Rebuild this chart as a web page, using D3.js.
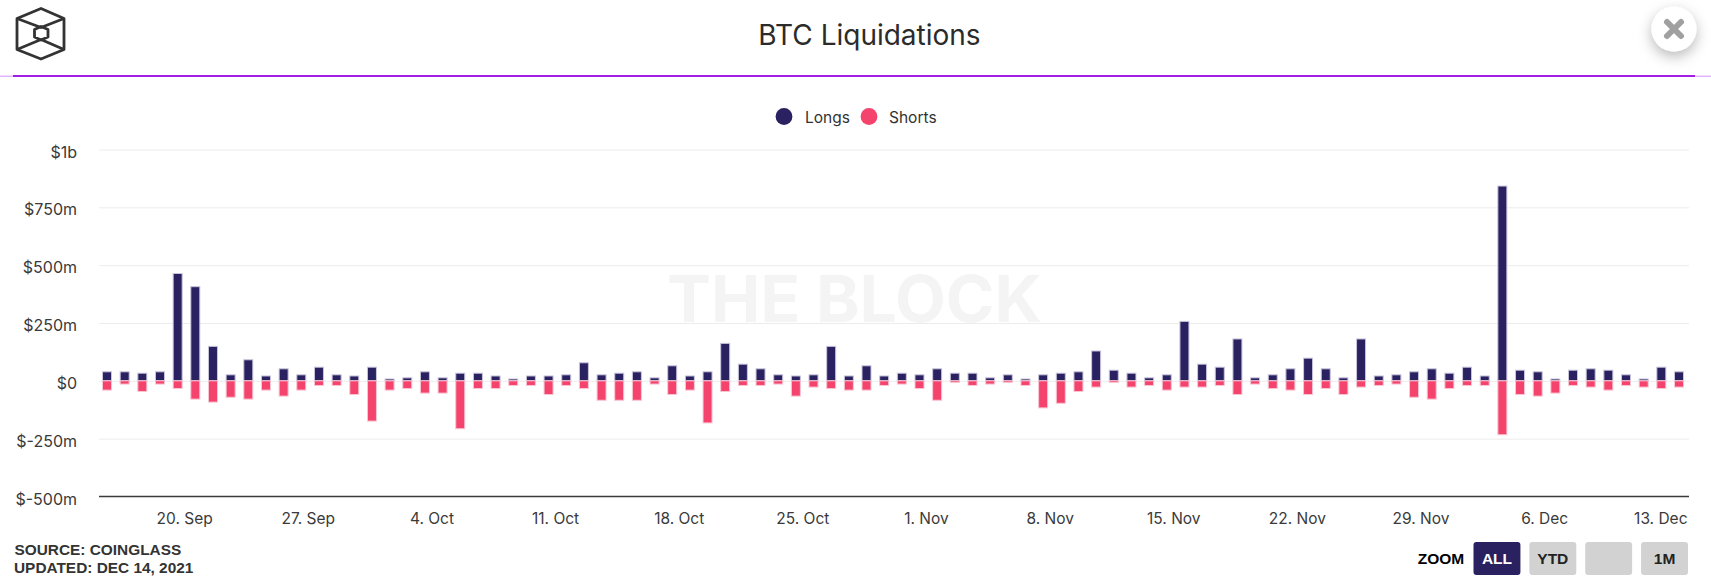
<!DOCTYPE html>
<html>
<head>
<meta charset="utf-8">
<script src="https://cdn.jsdelivr.net/npm/d3@7"></script>
<style>
html,body{margin:0;padding:0;background:#fff;overflow:hidden}
svg{display:block}
text{font-family:Inter,"Noto Sans",sans-serif}
</style>
</head>
<body>
<svg id="c" width="1711" height="579"></svg>
<script>
const firstDay = "2021-09-16";
const longs = [39,39,33,39,464,407,149,26,91,21,52,26,59,26,21,59,8,13,39,13,33,33,21,8,21,21,26,78,26,33,39,13,65,21,39,162,72,52,26,21,26,149,21,65,21,33,26,52,33,33,13,26,8,26,33,39,129,46,33,13,26,257,72,59,181,13,26,52,98,52,13,181,21,26,39,52,33,59,21,842,46,39,8,46,52,46,26,8,59,39];
const shorts = [-40,-14,-46,-14,-33,-79,-92,-71,-79,-40,-66,-40,-20,-20,-59,-174,-40,-33,-53,-53,-207,-33,-33,-20,-20,-59,-20,-33,-84,-84,-84,-14,-59,-40,-182,-46,-20,-20,-14,-66,-27,-33,-40,-40,-20,-14,-33,-84,-7,-20,-14,-7,-20,-117,-97,-46,-27,-7,-27,-20,-40,-27,-27,-20,-59,-14,-33,-40,-59,-33,-59,-27,-20,-14,-71,-79,-33,-20,-20,-233,-59,-66,-53,-20,-27,-40,-20,-27,-33,-27];
const yTicks = [-500,-250,0,250,500,750,1000];
const yTickLabels = ["$-500m","$-250m","$0","$250m","$500m","$750m","$1b"];
const xTickDates = ["2021-09-20","2021-09-27","2021-10-04","2021-10-11","2021-10-18","2021-10-25","2021-11-01","2021-11-08","2021-11-15","2021-11-22","2021-11-29","2021-12-06","2021-12-13"];
const xTickLabels = ["20. Sep","27. Sep","4. Oct","11. Oct","18. Oct","25. Oct","1. Nov","8. Nov","15. Nov","22. Nov","29. Nov","6. Dec","13. Dec"];
const seriesNames = ["Longs","Shorts"];
const seriesColors = ["#2a2160","#f4436c"];
const zoomButtons = ["ALL","YTD","","1M"];

const svg = d3.select("#c");
const pd = d3.utcParse("%Y-%m-%d");
const start = pd(firstDay);
const days = longs.map((_, i) => d3.utcDay.offset(start, i));

const left = 99, right = 1689;
const x = d3.scaleUtc().domain([days[0], days[days.length-1]]).range([107, 1679]);
const y = d3.scaleLinear().domain([-500,1000]).range([496.5,149.5]);

// defs
const defs = svg.append("defs");
const f = defs.append("filter").attr("id","sh").attr("x","-60%").attr("y","-60%").attr("width","220%").attr("height","220%");
f.append("feDropShadow").attr("dx",0).attr("dy",5).attr("stdDeviation",7).attr("flood-color","#000").attr("flood-opacity",0.28);

// header rule
svg.append("rect").attr("x",0).attr("y",75.5).attr("width",1711).attr("height",1.5).attr("fill","#e3b5ff");
svg.append("rect").attr("x",13).attr("y",75).attr("width",1682).attr("height",2).attr("fill","#a51ee8");

// logo
const logo = svg.append("g").attr("fill","none").attr("stroke","#333").attr("stroke-width",2.8).attr("stroke-linejoin","round").attr("transform","translate(1,0)");
logo.append("path").attr("d","M40 8.5L63 18.5V49.5L40 59L16 49.5V18.5Z");
logo.append("path").attr("d","M16 18.5L40 27.5L63 18.5M16 49.5L40 39.5L63 49.5");
logo.append("path").attr("d","M40 26.5L47 29.5V37L40 40L33.5 37V29.5Z");

// title
svg.append("text").attr("x",869.5).attr("y",35).attr("text-anchor","middle").attr("dominant-baseline","central")
  .attr("font-size",28).attr("fill","#2b2b2b").text("BTC Liquidations");

// close
svg.append("circle").attr("cx",1674).attr("cy",29).attr("r",22.5).attr("fill","#fff").attr("filter","url(#sh)");
svg.append("path").attr("d","M1667 22L1681 36M1681 22L1667 36").attr("stroke","#a0a0a0").attr("stroke-width",6).attr("stroke-linecap","round");

// watermark
svg.append("text").attr("x",667).attr("y",322).attr("font-size",65).attr("font-weight",700)
  .attr("textLength",375).attr("lengthAdjust","spacingAndGlyphs").attr("fill","#f4f4f4").text("THE BLOCK");

// legend
const legendX = [784, 869];
const legendTextX = [805, 889];
seriesNames.forEach((n,i)=>{
  svg.append("circle").attr("cx",legendX[i]).attr("cy",116.5).attr("r",8.4).attr("fill",seriesColors[i]);
  svg.append("text").attr("x",legendTextX[i]).attr("y",117).attr("dominant-baseline","central").attr("font-size",15.5).attr("fill","#333").text(n);
});

// y axis + grid
const yAxis = d3.axisLeft(y).tickValues(yTicks).tickFormat((d,i)=>yTickLabels[i]).tickSize(0).tickPadding(22);
const gy = svg.append("g").attr("transform",`translate(${left},0)`).call(yAxis);
gy.select(".domain").remove();
gy.selectAll("text").attr("font-size",16).attr("fill","#3a3a3a").attr("dy","0.47em").style("font-family","Inter,'Noto Sans',sans-serif");
const grid = d3.axisLeft(y).tickValues(yTicks.filter(d=>d!==-500)).tickFormat("").tickSize(-(right-left));
const gg = svg.append("g").attr("transform",`translate(${left},0)`).call(grid);
gg.select(".domain").remove();
gg.selectAll("line").attr("stroke","#ececec").attr("stroke-width",1);

// bars
const bw = 9;
const seriesValues = [longs, shorts];
seriesValues.forEach((vals,s)=>{
  svg.append("g").selectAll("rect").data(vals).join("rect")
    .attr("x",(d,i)=>x(days[i])-bw/2)
    .attr("width",bw)
    .attr("y",d=>Math.min(y(d),y(0)))
    .attr("height",d=>Math.abs(y(d)-y(0)))
    .attr("fill",seriesColors[s])
    .attr("stroke",s===0?"#c9c5dc":"#f9c6d3")
    .attr("stroke-width",1);
});

// x axis
const tickDates = xTickDates.map(pd);
const xAxis = d3.axisBottom(x).tickValues(tickDates).tickFormat((d,i)=>xTickLabels[i]).tickSize(0).tickPadding(16);
const gx = svg.append("g").attr("transform","translate(6.5,496.5)").call(xAxis);
gx.select(".domain").remove();
gx.selectAll("text").attr("font-size",15.5).attr("fill","#3a3a3a").style("font-family","Inter,'Noto Sans',sans-serif");
// last label is kept inside the plot edge
gx.selectAll("text").filter((d,i)=>i===xTickDates.length-1).attr("text-anchor","end").attr("x",1687-6.5-x(tickDates[tickDates.length-1]));
svg.append("line").attr("x1",left).attr("x2",right).attr("y1",496.5).attr("y2",496.5).attr("stroke","#3a3a3a").attr("stroke-width",1.3);

// footer
const foot = svg.append("g").attr("font-weight",700).attr("font-size",15.4).attr("fill","#333");
foot.append("text").attr("x",14.5).attr("y",555).style("font-family","'Liberation Sans',Arial,sans-serif").text("SOURCE: COINGLASS");
foot.append("text").attr("x",14).attr("y",573).style("font-family","'Liberation Sans',Arial,sans-serif").text("UPDATED: DEC 14, 2021");

// zoom buttons
svg.append("text").attr("x",1441).attr("y",558).attr("text-anchor","middle").attr("dominant-baseline","central")
  .attr("font-weight",700).attr("font-size",15.5).attr("fill","#000").style("font-family","'Liberation Sans',Arial,sans-serif").text("ZOOM");
const zb = d3.scaleBand().domain(d3.range(zoomButtons.length)).range([1473.5,1688]).paddingInner(0.16);
zoomButtons.forEach((t,i)=>{
  svg.append("rect").attr("x",zb(i)).attr("y",542).attr("width",zb.bandwidth()).attr("height",33).attr("rx",3)
    .attr("fill",i===0?"#2a2160":"#d2d2d2");
  svg.append("text").attr("x",zb(i)+zb.bandwidth()/2).attr("y",558.5).attr("text-anchor","middle").attr("dominant-baseline","central")
    .attr("font-weight",700).attr("font-size",15.5).attr("fill",i===0?"#fff":"#222").style("font-family","'Liberation Sans',Arial,sans-serif").text(t);
});
</script>
</body>
</html>
